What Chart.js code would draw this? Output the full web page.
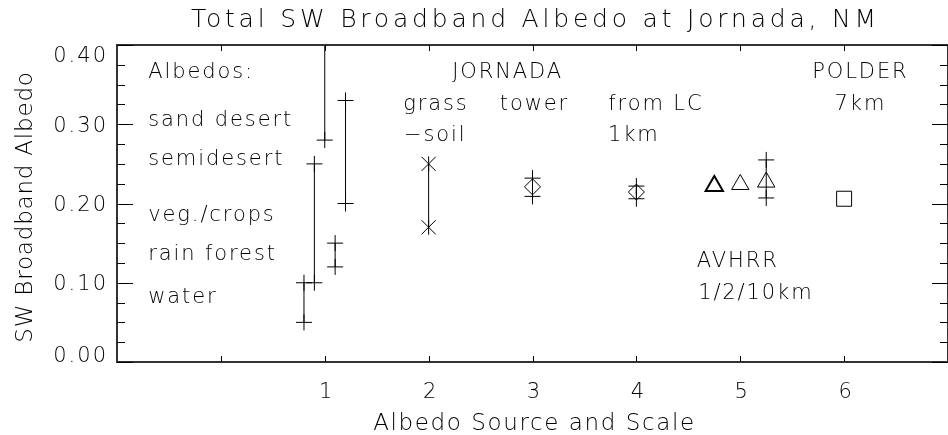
<!DOCTYPE html>
<html>
<head>
<meta charset="utf-8">
<script src="https://cdn.jsdelivr.net/npm/chart.js@4"></script>
<style>
  html, body { margin: 0; padding: 0; overflow: hidden; background: #fff; }
  canvas { display: block; }
</style>
</head>
<body>
<canvas id="albedo" width="960" height="435"></canvas>
<script>
// surface types ("Albedos:" column), ranges plotted around x = 1
const surfaceNames = ["water", "semidesert", "sand desert", "rain forest", "veg./crops"];
const surfaceX = [0.8, 0.9, 1.0, 1.1, 1.2];
const surfaceLow = [0.05, 0.10, 0.28, 0.12, 0.20];
const surfaceHigh = [0.10, 0.25, 0.45, 0.15, 0.33];

// JORNADA grass-soil
const grassX = 2;
const grassRange = [0.17, 0.25];
// JORNADA tower
const towerX = 3;
const towerAlbedo = 0.221;
const towerRange = [0.209, 0.232];
// from LC, 1km
const lcX = 4;
const lcAlbedo = 0.2145;
const lcRange = [0.206, 0.222];
// AVHRR 1/2/10km
const avhrrX = [4.75, 5.0, 5.25];
const avhrrAlbedo = [0.222, 0.224, 0.227];
const avhrrRange = [0.207, 0.255];
// POLDER 7km
const polderX = 6;
const polderAlbedo = 0.206;

const xLabelValues = [1, 2, 3, 4, 5, 6];

// text notes inside the plot, placed in data units
const notes = [
  ["Albedos:", -0.70, 0.358, "left"],
  ["sand desert", -0.70, 0.298, "left"],
  ["semidesert", -0.70, 0.249, "left"],
  ["veg./crops", -0.70, 0.1785, "left"],
  ["rain forest", -0.70, 0.1287, "left"],
  ["water", -0.70, 0.0741, "left"],
  ["JORNADA", 2.76, 0.358, "center"],
  ["grass", 2.07, 0.318, "center"],
  ["\u2212soil", 1.762, 0.279, "left"],
  ["tower", 3.019, 0.318, "center"],
  ["from LC", 3.73, 0.318, "left"],
  ["1km", 3.727, 0.279, "left"],
  ["POLDER", 6.157, 0.358, "center"],
  ["7km", 6.157, 0.318, "center"],
  ["AVHRR", 4.976, 0.1195, "center"],
  ["1/2/10km", 5.15, 0.0791, "center"]
];

const FONT = '"DejaVu Sans", "Liberation Sans", sans-serif';
const WEIGHT = 200;

function put(ctx, s, x, y, size, align, spacing) {
  ctx.font = WEIGHT + " " + size + "px " + FONT;
  ctx.letterSpacing = spacing + "px";
  ctx.textAlign = align;
  ctx.textBaseline = "alphabetic";
  ctx.fillText(s, x, y);
}

function rangeSet(x, lo, hi, style, radius, extra) {
  return Object.assign({
    type: "line",
    data: [{ x: x, y: lo }, { x: x, y: hi }],
    showLine: true,
    borderColor: "#000",
    borderWidth: 1,
    pointStyle: style,
    pointRadius: radius,
    pointBorderColor: "#000",
    pointBackgroundColor: "rgba(0,0,0,0)",
    pointBorderWidth: 1,
    clip: 0
  }, extra || {});
}

function markSet(points, style, radius, width) {
  return {
    type: "scatter",
    data: points,
    pointStyle: style,
    pointRadius: radius,
    pointBorderColor: "#000",
    pointBackgroundColor: "rgba(0,0,0,0)",
    pointBorderWidth: width || 1,
    clip: 0
  };
}

const datasets = [];
surfaceX.forEach(function (x, i) {
  datasets.push(rangeSet(x, surfaceLow[i], surfaceHigh[i], "cross", 8));
});
datasets.push(rangeSet(grassX, grassRange[0], grassRange[1], "line", 7.5, { pointRotation: 90 }));
datasets.push(markSet(grassRange.map(v => ({ x: grassX, y: v })), "crossRot", 10));
datasets.push(rangeSet(towerX, towerRange[0], towerRange[1], "cross", 8));
datasets.push(markSet([{ x: towerX, y: towerAlbedo }], "rectRot", 8));
datasets.push(rangeSet(lcX, lcRange[0], lcRange[1], "cross", 8));
datasets.push(markSet([{ x: lcX, y: lcAlbedo }], "rectRot", 8));
datasets.push(rangeSet(avhrrX[2], avhrrRange[0], avhrrRange[1], "cross", 8));
datasets.push(markSet(avhrrX.map((x, i) => ({ x: x, y: avhrrAlbedo[i] })), "triangle", 10, [2, 1, 1]));
datasets.push(markSet([{ x: polderX, y: polderAlbedo }], "rect", 10.6));

const frame = {
  id: "frame",
  afterDatasetsDraw(chart) {
    const ctx = chart.ctx;
    const a = chart.chartArea;
    const xs = chart.scales.x;
    const ys = chart.scales.y;
    ctx.save();
    ctx.strokeStyle = "#333";
    ctx.lineWidth = 2;
    ctx.strokeRect(a.left, a.top, a.right - a.left, a.bottom - a.top);

    ctx.strokeStyle = "#000";
    ctx.lineWidth = 1;
    ctx.beginPath();
    xs.ticks.forEach(function (t) {
      const px = Math.round(xs.getPixelForValue(t.value)) + 0.5;
      if (px <= a.left + 2 || px >= a.right - 2) return;
      ctx.moveTo(px, a.bottom);
      ctx.lineTo(px, a.bottom - 6);
      ctx.moveTo(px, a.top);
      ctx.lineTo(px, a.top + 6);
    });
    const minor = 4;
    const step = ys.ticks.length > 1 ? ys.ticks[1].value - ys.ticks[0].value : 0.1;
    ys.ticks.forEach(function (t) {
      for (let k = 0; k < minor; k++) {
        const v = t.value + k * step / minor;
        if (v > ys.max + 1e-9) break;
        const py = Math.round(ys.getPixelForValue(v)) + 0.5;
        const len = k === 0 ? 16 : 8;
        ctx.moveTo(a.left, py);
        ctx.lineTo(a.left + len, py);
        ctx.moveTo(a.right, py);
        ctx.lineTo(a.right - len, py);
      }
    });
    ctx.stroke();

    ctx.fillStyle = "#000";
    // y tick labels, end labels kept inside the axis
    ys.ticks.forEach(function (t) {
      const py = ys.getPixelForValue(t.value);
      const base = Math.min(Math.max(py + 7.5, a.top + 17), a.bottom - 0.5);
      put(ctx, t.value.toFixed(2), a.left - 9, base, 21, "right", 2);
    });
    xLabelValues.forEach(function (v) {
      put(ctx, String(v), xs.getPixelForValue(v) + 2, 398, 21, "center", 2);
    });

    const cx = (a.left + a.right) / 2;
    put(ctx, "Total SW Broadband Albedo at Jornada, NM", cx + 3, 27, 25, "center", 3.8);
    put(ctx, "Albedo Source and Scale", cx + 2, 430, 23, "center", 1.6);
    ctx.save();
    ctx.translate(32, 207);
    ctx.rotate(-Math.PI / 2);
    put(ctx, "SW Broadband Albedo", 0, 0, 23, "center", 0.8);
    ctx.restore();

    notes.forEach(function (n) {
      put(ctx, n[0], xs.getPixelForValue(n[1]), ys.getPixelForValue(n[2]), 21, n[3], 1.9);
    });
    ctx.restore();
  }
};

const albedoChart = new Chart(document.getElementById("albedo").getContext("2d"), {
  data: { datasets: datasets },
  options: {
    responsive: false,
    animation: false,
    events: [],
    layout: { padding: { top: 45, right: 3, bottom: 0, left: 0 } },
    plugins: {
      legend: { display: false },
      tooltip: { enabled: false },
      title: { display: false }
    },
    scales: {
      x: {
        type: "linear",
        min: -1,
        max: 7,
        ticks: { display: false, stepSize: 1 },
        grid: { display: false },
        border: { display: false },
        afterFit: function (s) { s.height = 73; }
      },
      y: {
        type: "linear",
        min: 0,
        max: 0.4,
        ticks: { display: false, stepSize: 0.1 },
        grid: { display: false },
        border: { display: false },
        afterFit: function (s) { s.width = 117; }
      }
    }
  },
  plugins: [frame]
});
</script>
</body>
</html>
